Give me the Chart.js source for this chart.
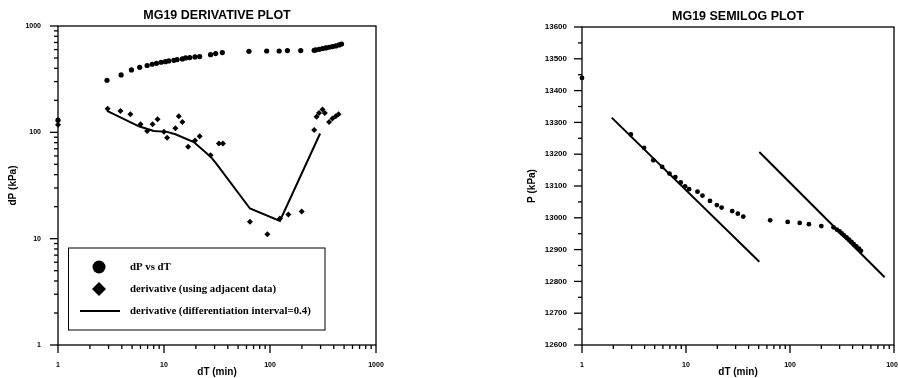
<!DOCTYPE html>
<html>
<head>
<meta charset="utf-8">
<script src="https://cdn.jsdelivr.net/npm/chart.js@4"></script>
<style>
  body { margin: 0; background: #fff; }
  #wrap { position: relative; width: 898px; height: 378px; overflow: hidden; }
  canvas { position: absolute; top: 0; }
  #left { left: 0; }
  #right { left: 450px; }
</style>
</head>
<body>
<div id="wrap">
  <canvas id="left" width="450" height="378"></canvas>
  <canvas id="right" width="448" height="378"></canvas>
</div>
<script>
// ---- data ----
// derivative plot: dP vs dT (circles)
const dT_dp = [1, 2.9, 3.94, 4.93, 5.9, 6.93, 7.73, 8.5, 9.4, 10.3, 11.1, 12.4, 13.3, 14.9, 16, 17.5, 19.6, 21.7, 27.5, 30.7, 35.5,
  63.3, 93, 122, 146, 195, 261, 270, 291, 313, 336, 361, 388, 417, 449, 473];
const dP_dp = [130, 309, 347, 386, 409, 425, 437, 446, 456, 462, 469, 476, 483, 490, 501, 505, 512, 516, 538, 550, 562,
  578, 582, 582, 587, 587, 591, 596, 604, 613, 622, 631, 640, 649, 664, 677];
// derivative using adjacent data (diamonds)
const dT_adj = [1, 2.94, 3.88, 4.82, 6.0, 6.93, 7.8, 8.7, 10, 10.7, 12.8, 13.8, 14.9, 16.9, 19.6, 21.7, 27.5, 33, 36,
  64.7, 94.5, 124, 149, 199, 261, 275, 290, 313, 329, 361, 388, 417, 443];
const dP_adj = [118, 167, 159, 148, 119, 103, 119, 133, 101, 89, 109, 142, 125, 73, 84, 92, 61, 78.5, 78.5,
  14.4, 11, 15.5, 16.9, 18, 105, 140, 152, 164, 152, 125, 135, 142, 148];
// derivative, differentiation interval 0.4 (line)
const dT_int = [2.9, 5.8, 8, 10.7, 12.8, 19.1, 27.5, 31, 64.7, 124, 297];
const dP_int = [159, 114, 103, 101, 96, 81, 59, 51, 19.2, 14.7, 97.5];

// semilog plot: P vs dT
const dT_semi = [1, 2.95, 3.95, 4.85, 5.9, 6.93, 7.9, 8.9, 9.8, 10.7, 12.9, 14.4, 17, 19.8, 22, 27.8, 31.5, 35.5,
  64.5, 95, 124, 152, 200, 262, 282, 300, 315, 330, 350, 370, 390, 410, 435, 460, 481];
const P_semi = [13440, 13262, 13220, 13181, 13160, 13139, 13128, 13111, 13099, 13090, 13082, 13070, 13053, 13040, 13032, 13021, 13013, 13004,
  12992, 12987, 12984, 12980, 12974, 12970, 12963, 12957, 12951, 12945, 12938, 12931, 12924, 12917, 12910, 12903, 12896];
// straight-line fits on the semilog plot
const dT_fit1 = [1.93, 50.7];
const P_fit1 = [13315, 12862];
const dT_fit2 = [50.7, 813];
const P_fit2 = [13207, 12813];

// axis ticks
const logTicks = [1, 2, 3, 4, 5, 6, 7, 8, 9, 10, 20, 30, 40, 50, 60, 70, 80, 90, 100, 200, 300, 400, 500, 600, 700, 800, 900, 1000];
const logLabels = [1, 10, 100, 1000];
const pTicks = [12600, 12650, 12700, 12750, 12800, 12850, 12900, 12950, 13000, 13050, 13100, 13150, 13200, 13250, 13300, 13350, 13400, 13450, 13500, 13550, 13600];
const pLabels = [12600, 12700, 12800, 12900, 13000, 13100, 13200, 13300, 13400, 13500, 13600];

const pts = (xs, ys) => xs.map((x, i) => ({x: x, y: ys[i]}));
const tickFont = {family: 'Liberation Sans, Arial, sans-serif', size: 7, weight: 'bold'};
const titleFont = {family: 'Liberation Sans, Arial, sans-serif', size: 12.5, weight: 'bold'};
const axisFont = {family: 'Liberation Sans, Arial, sans-serif', size: 10, weight: 'bold'};

// outward tick marks + frame, drawn at the scale positions
const frameTicks = {
  id: 'frameTicks',
  afterDraw(chart, args, opts) {
    const ctx = chart.ctx, a = chart.chartArea;
    ctx.save();
    ctx.strokeStyle = '#000';
    ctx.lineWidth = 1.3;
    ctx.strokeRect(a.left, a.top, a.right - a.left, a.bottom - a.top);
    ['x', 'y'].forEach(id => {
      const s = chart.scales[id];
      const majors = opts[id];
      s.ticks.forEach(t => {
        const len = majors.includes(t.value) ? 8 : 4;
        const p = s.getPixelForValue(t.value);
        ctx.beginPath();
        if (id === 'x') { ctx.moveTo(p, a.bottom); ctx.lineTo(p, a.bottom + len); }
        else { ctx.moveTo(a.left, p); ctx.lineTo(a.left - len, p); }
        ctx.stroke();
      });
    });
    ctx.restore();
  }
};

// boxed legend inside the derivative plot
const boxLegend = {
  id: 'boxLegend',
  afterDraw(chart) {
    const ctx = chart.ctx;
    const ds = chart.data.datasets;
    ctx.save();
    ctx.fillStyle = '#fff';
    ctx.fillRect(68.5, 248, 256.5, 82);
    ctx.strokeStyle = '#000';
    ctx.lineWidth = 1;
    ctx.strokeRect(68.5, 248, 256.5, 82);
    ctx.fillStyle = '#000';
    ctx.beginPath();
    ctx.arc(99, 267, 6.5, 0, Math.PI * 2);
    ctx.fill();
    ctx.beginPath();
    ctx.moveTo(99, 282); ctx.lineTo(106, 289); ctx.lineTo(99, 296); ctx.lineTo(92, 289);
    ctx.closePath();
    ctx.fill();
    ctx.lineWidth = 2;
    ctx.beginPath();
    ctx.moveTo(80, 311); ctx.lineTo(120, 311);
    ctx.stroke();
    ctx.font = 'bold 10.8px "Liberation Serif", "Times New Roman", serif';
    ctx.textBaseline = 'middle';
    ctx.fillText(ds[0].label, 130, 267);
    ctx.fillText(ds[1].label, 130, 289);
    ctx.fillText(ds[2].label, 130, 311);
    ctx.restore();
  }
};

function baseScale(extra) {
  return Object.assign({
    grid: {display: true, drawOnChartArea: false, drawTicks: false},
    border: {display: false},
  }, extra);
}

// ---- derivative plot ----
new Chart(document.getElementById('left').getContext('2d'), {
  type: 'scatter',
  data: {
    datasets: [
      {label: 'dP vs dT', data: pts(dT_dp, dP_dp), pointStyle: 'circle', pointRadius: 2.6,
        backgroundColor: '#000', borderColor: '#000', borderWidth: 0, clip: false},
      {label: 'derivative (using adjacent data)', data: pts(dT_adj, dP_adj), pointStyle: 'rectRot', pointRadius: 3,
        backgroundColor: '#000', borderColor: '#000', borderWidth: 0, clip: false},
      {label: 'derivative (differentiation interval=0.4)', data: pts(dT_int, dP_int), showLine: true, pointRadius: 0,
        borderColor: '#000', borderWidth: 2, tension: 0}
    ]
  },
  options: {
    responsive: false,
    animation: false,
    events: [],
    layout: {padding: {left: 0, top: 0, right: 74, bottom: 0}},
    plugins: {
      legend: {display: false},
      tooltip: {enabled: false},
      title: {display: true, text: 'MG19 DERIVATIVE PLOT', color: '#000', font: titleFont,
        fullSize: false, padding: {top: 8, bottom: 3}},
      frameTicks: {x: logLabels, y: logLabels}
    },
    scales: {
      x: baseScale({
        type: 'logarithmic', position: 'bottom', min: 1, max: 1000,
        afterBuildTicks: s => { s.ticks = logTicks.map(v => ({value: v})); },
        afterFit: s => { s.height = 33; s.paddingLeft = 0; s.paddingRight = 0; },
        ticks: {autoSkip: false, maxRotation: 0, minRotation: 0, padding: 16, color: '#000', font: tickFont,
          callback: v => logLabels.includes(v) ? String(v) : ''},
        title: {display: true, text: 'dT (min)', color: '#000', font: axisFont, padding: {top: -1, bottom: 0}}
      }),
      y: baseScale({
        type: 'logarithmic', position: 'left', min: 1, max: 1000,
        afterBuildTicks: s => { s.ticks = logTicks.map(v => ({value: v})); },
        afterFit: s => { s.width = 58; s.paddingTop = 0; s.paddingBottom = 0; },
        ticks: {autoSkip: false, padding: 17, color: '#000', font: tickFont,
          callback: v => logLabels.includes(v) ? String(v) : ''},
        title: {display: true, text: 'dP (kPa)', color: '#000', font: axisFont, padding: {top: 7, bottom: 0}}
      })
    }
  },
  plugins: [frameTicks, boxLegend]
});

// ---- semilog plot ----
new Chart(document.getElementById('right').getContext('2d'), {
  type: 'scatter',
  data: {
    datasets: [
      {label: 'P vs dT', data: pts(dT_semi, P_semi), pointStyle: 'circle', pointRadius: 2.4,
        backgroundColor: '#000', borderColor: '#000', borderWidth: 0, clip: false},
      {label: 'fit 1', data: pts(dT_fit1, P_fit1), showLine: true, pointRadius: 0, borderColor: '#000', borderWidth: 2},
      {label: 'fit 2', data: pts(dT_fit2, P_fit2), showLine: true, pointRadius: 0, borderColor: '#000', borderWidth: 2}
    ]
  },
  options: {
    responsive: false,
    animation: false,
    events: [],
    layout: {padding: {left: 0, top: 0, right: 1, bottom: 0}},
    plugins: {
      legend: {display: false},
      tooltip: {enabled: false},
      title: {display: true, text: 'MG19 SEMILOG PLOT', color: '#000', font: titleFont,
        fullSize: false, padding: {top: 9, bottom: 3}},
      frameTicks: {x: logLabels, y: pLabels}
    },
    scales: {
      x: baseScale({
        type: 'logarithmic', position: 'bottom', min: 1, max: 1000,
        afterBuildTicks: s => { s.ticks = logTicks.map(v => ({value: v})); },
        afterFit: s => { s.height = 33; s.paddingLeft = 0; s.paddingRight = 0; },
        ticks: {autoSkip: false, maxRotation: 0, minRotation: 0, padding: 16, color: '#000', font: tickFont,
          callback: v => logLabels.includes(v) ? String(v) : ''},
        title: {display: true, text: 'dT (min)', color: '#000', font: axisFont, padding: {top: -1, bottom: 0}}
      }),
      y: baseScale({
        type: 'linear', position: 'left', min: 12600, max: 13600,
        afterBuildTicks: s => { s.ticks = pTicks.map(v => ({value: v})); },
        afterFit: s => { s.width = 132; s.paddingTop = 0; s.paddingBottom = 0; },
        ticks: {autoSkip: false, padding: 15, color: '#000', font: {family: tickFont.family, size: 8, weight: 'bold'},
          callback: v => pLabels.includes(v) ? String(v) : ''},
        title: {display: true, text: 'P (kPa)', color: '#000', font: axisFont, padding: {top: 76, bottom: 0}}
      })
    }
  },
  plugins: [frameTicks]
});
</script>
</body>
</html>
